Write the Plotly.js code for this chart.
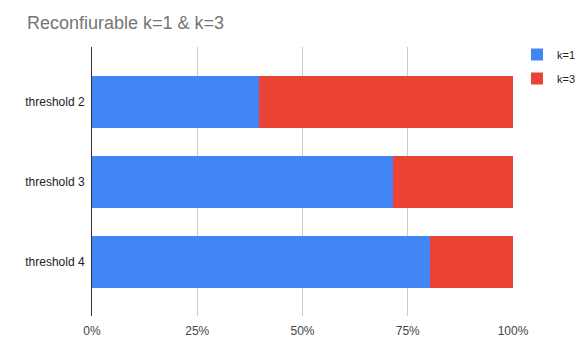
<!DOCTYPE html>
<html>
<head>
<meta charset="utf-8">
<script src="https://cdn.plot.ly/plotly-3.0.1.min.js"></script>
<style>html,body{margin:0;padding:0;background:#fff;}#chart{width:580px;height:356px;}</style>
</head>
<body>
<div id="chart"></div>
<script>
var categories = ["threshold 2", "threshold 3", "threshold 4"];
var k1Values = [39.7, 71.5, 80.2];
var k3Values = [60.3, 28.5, 19.8];
var seriesNames = ["k=1", "k=3"];
var xTickValues = [0, 25, 50, 75, 100];
var xTickLabels = ["0%", "25%", "50%", "75%", "100%"];

var font = "Arial, 'Liberation Sans', sans-serif";
var traces = [
  {type: "bar", orientation: "h", name: seriesNames[0], y: categories, x: k1Values,
   marker: {color: "#4285F4"}, legendgroup: "a", hoverinfo: "none"},
  {type: "bar", orientation: "h", name: seriesNames[1], y: categories, x: k3Values,
   marker: {color: "#EA4335"}, legendgroup: "b", hoverinfo: "none"}
];
var layout = {
  width: 580, height: 356,
  margin: {l: 92, r: 67, t: 47, b: 40, pad: 0, autoexpand: false},
  paper_bgcolor: "#ffffff", plot_bgcolor: "#ffffff",
  barmode: "stack", bargap: 0.354,
  font: {family: font, size: 11, color: "#444444"},
  title: {text: "Reconfiurable k=1 & k=3", x: 27/580, xanchor: "left", xref: "container",
          y: 1 - 23/356, yanchor: "middle", yref: "container",
          font: {family: font, size: 18, color: "#757575"}},
  xaxis: {range: [0, 100], tickvals: xTickValues, ticktext: xTickLabels,
          showgrid: true, gridcolor: "#cccccc", gridwidth: 1, zeroline: false,
          showline: false, ticks: "", ticklabelstandoff: 6,
          tickfont: {family: font, size: 12, color: "#444444"},
          fixedrange: true},
  yaxis: {categoryorder: "array", categoryarray: categories, range: [2.67, -0.68],
          showgrid: false, zeroline: false, showline: true, linecolor: "#333333", linewidth: 1,
          ticks: "", ticklabelstandoff: 4,
          tickfont: {family: font, size: 12, color: "#222222"}, fixedrange: true},
  showlegend: true,
  legend: {xref: "container", yref: "container", x: 517/580, xanchor: "left",
           y: 1 - 40/356, yanchor: "top",
           traceorder: "grouped", tracegroupgap: 5,
           font: {family: font, size: 11, color: "#222222"}, bgcolor: "rgba(0,0,0,0)"}
};
Plotly.newPlot("chart", traces, layout, {displayModeBar: false, staticPlot: true});
</script>
</body>
</html>
